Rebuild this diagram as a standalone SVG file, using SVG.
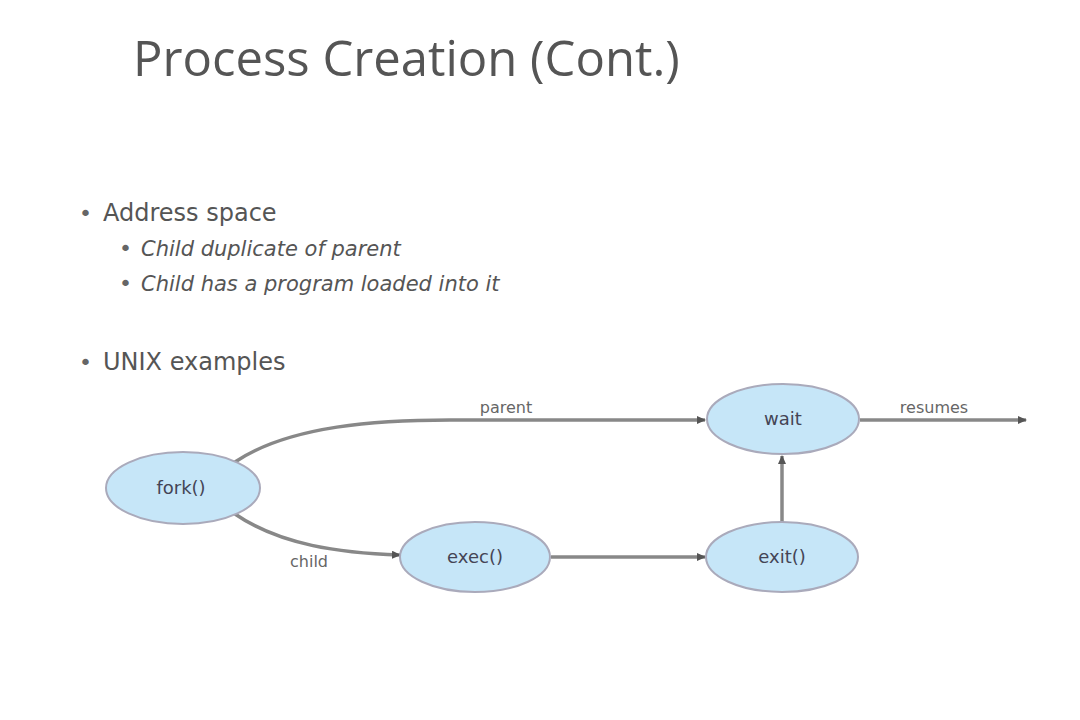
<svg xmlns="http://www.w3.org/2000/svg" width="1080" height="720" viewBox="0 0 1080 720">
<style>
.title{font-family:"Open Sans","DejaVu Sans",sans-serif;font-size:49px;fill:#555}
.b1{font-family:"DejaVu Sans",sans-serif;font-size:24px;fill:#555}
.b2{font-family:"DejaVu Sans",sans-serif;font-size:21px;fill:#555;font-style:italic}
.dot{font-family:"DejaVu Sans",sans-serif;font-size:22px;fill:#666}
.node ellipse{fill:#c6e6f8;stroke:#aab;stroke-width:2}
.node text{font-family:"DejaVu Sans",sans-serif;font-size:18px;fill:#445;text-anchor:middle}
.lbl{font-family:"DejaVu Sans",sans-serif;font-size:16px;fill:#666;text-anchor:middle}
.edge{fill:none;stroke:#888;stroke-width:3.5}
</style>
<defs>
<marker id="arr" markerWidth="9" markerHeight="8" refX="8" refY="4" orient="auto" markerUnits="userSpaceOnUse">
<path d="M0,0 L9,4 L0,8 z" fill="#555"/>
</marker>
</defs>
<rect width="1080" height="720" fill="#fff"/>
<text class="title" x="133" y="76">Process Creation (Cont.)</text>
<text class="dot" x="79" y="221">•</text>
<text class="b1" x="103" y="221">Address space</text>
<text class="dot" x="119" y="256">•</text>
<text class="b2" x="141" y="256">Child duplicate of parent</text>
<text class="dot" x="119" y="291">•</text>
<text class="b2" x="141" y="291">Child has a program loaded into it</text>
<text class="dot" x="79" y="370">•</text>
<text class="b1" x="103" y="370">UNIX examples</text>
<g id="connectors">
<path class="edge" d="M235,462 C290,425 380,420 450,420 L705,420" marker-end="url(#arr)"/>
<path class="edge" d="M235,514 C280,545 340,553 400,555" marker-end="url(#arr)"/>
<path class="edge" d="M551,557 L705,557" marker-end="url(#arr)"/>
<path class="edge" d="M782,522 L782,456" marker-end="url(#arr)"/>
<path class="edge" d="M860,420 L1026,420" marker-end="url(#arr)"/>
<text class="lbl" x="506" y="413">parent</text>
<text class="lbl" x="309" y="567">child</text>
<text class="lbl" x="934" y="413">resumes</text>
</g>
<g id="fork" class="node"><ellipse cx="183" cy="488" rx="77" ry="36"/><text x="181" y="494">fork()</text></g>
<g id="exec" class="node"><ellipse cx="475" cy="557" rx="75" ry="35"/><text x="475" y="563">exec()</text></g>
<g id="exit" class="node"><ellipse cx="782" cy="557" rx="76" ry="35"/><text x="782" y="563">exit()</text></g>
<g id="wait" class="node"><ellipse cx="783" cy="419" rx="76" ry="35"/><text x="783" y="425">wait</text></g>
</svg>
